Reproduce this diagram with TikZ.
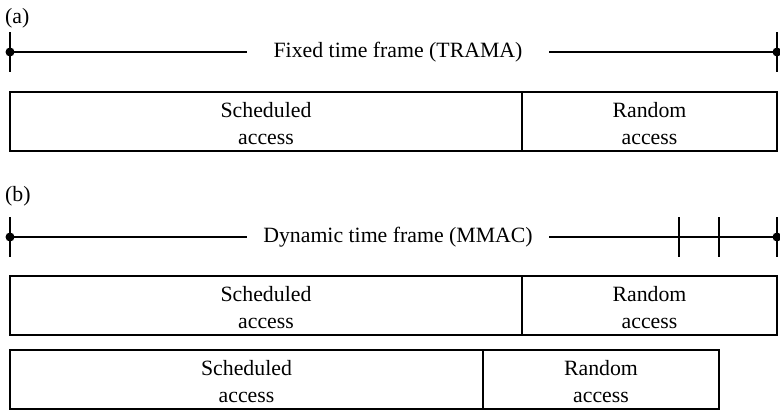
\documentclass[tikz,border=0pt]{standalone}
\usepackage{fontspec}
\setmainfont{Liberation Serif}
\begin{document}
\begin{tikzpicture}[x=1pt,y=-1pt,
  every node/.style={font=\fontsize{21.8}{26.5}\selectfont},
  cell/.style={draw, line width=1.3pt, inner sep=0pt, align=center, text depth=0pt},
  celltext/.style={inner sep=0pt, align=center},
  title/.style={inner sep=0pt, minimum width=302pt, minimum height=20pt},
  tl/.style={line width=1.2pt},
  tick/.style={line width=1.2pt},
  dot/.style={fill=black}
]
\useasboundingbox (0,0) rectangle (780,411);

% ---------- (a)
\node[anchor=west, inner sep=0pt] (la) at (5,18.5) {(a)};
\coordinate (a0) at (10,52);
\coordinate (a1) at (777,52);
\node[title] (ta) at (398,52) {Fixed time frame (TRAMA)};
\draw[tl] (a0) -- (ta.west);
\draw[tl] (ta.east) -- (a1);
\draw[tick] ([yshift=-20pt]a0) -- ([yshift=20pt]a0);
\draw[tick] ([yshift=-20pt]a1) -- ([yshift=20pt]a1);
\fill[dot] (a0) circle (4.5);
\fill[dot] (a1) circle (4.5);

\node[cell, minimum width=512pt, minimum height=59pt] (as) at (266,121.5) {};
\node[cell, minimum width=255pt, minimum height=59pt] (ar) at (649.5,121.5) {};
\node[celltext] (ast) at ([yshift=-2pt]as.center) {Scheduled\\access};
\node[celltext] (art) at ([yshift=-2pt]ar.center) {Random\\access};

% ---------- (b)
\node[anchor=west, inner sep=0pt] (lb) at (5,196) {(b)};
\coordinate (b0) at (10,237);
\coordinate (b1) at (777,237);
\coordinate (bt1) at (679,237);
\coordinate (bt2) at (719,237);
\node[title] (tb) at (398,237) {Dynamic time frame (MMAC)};
\draw[tl] (b0) -- (tb.west);
\draw[tl] (tb.east) -- (b1);
\draw[tick] ([yshift=-20pt]b0) -- ([yshift=20pt]b0);
\draw[tick] ([yshift=-20pt]b1) -- ([yshift=20pt]b1);
\draw[tick] ([yshift=-20pt]bt1) -- ([yshift=20pt]bt1);
\draw[tick] ([yshift=-20pt]bt2) -- ([yshift=20pt]bt2);
\fill[dot] (b0) circle (4.5);
\fill[dot] (b1) circle (4.5);

\node[cell, minimum width=512pt, minimum height=59pt] (bs) at (266,305.5) {};
\node[cell, minimum width=255pt, minimum height=59pt] (br) at (649.5,305.5) {};
\node[celltext] (bst) at ([yshift=-2pt]bs.center) {Scheduled\\access};
\node[celltext] (brt) at ([yshift=-2pt]br.center) {Random\\access};

\node[cell, minimum width=473pt, minimum height=59pt] (cs) at (246.5,379.5) {};
\node[cell, minimum width=236pt, minimum height=59pt] (cr) at (601,379.5) {};
\node[celltext] (cst) at ([yshift=-2pt]cs.center) {Scheduled\\access};
\node[celltext] (crt) at ([yshift=-2pt]cr.center) {Random\\access};
\end{tikzpicture}
\end{document}
